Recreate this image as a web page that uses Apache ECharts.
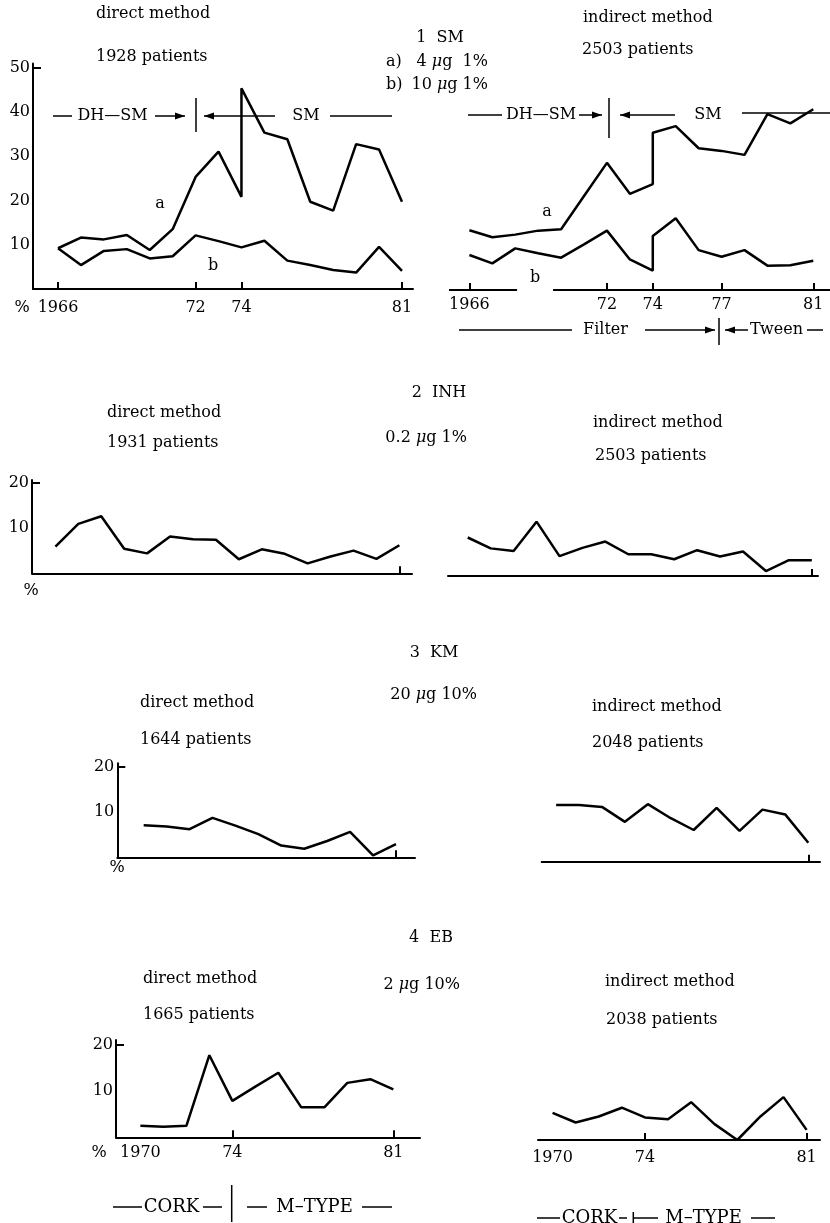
<!DOCTYPE html>
<html><head><meta charset="utf-8">
<script src="https://cdn.jsdelivr.net/npm/echarts@6/dist/echarts.min.js"></script>
<style>html,body{margin:0;padding:0;background:#fff}#c{width:830px;height:1223px}</style>
</head><body><div id="c"></div>
<script>
const FONT = "'DejaVu Serif', serif";

// ---------- DATA ----------
// 1 SM
const smDirectYearsA = [1966,1967,1968,1969,1970,1971,1972,1973,1974,1974,1975,1976,1977,1978,1979,1980,1981];
const smDirectA      = [9.2,11.6,11.2,12.2,8.8,13.5,25.3,31.0,20.8,45.3,35.3,33.8,19.7,17.7,32.7,31.5,19.7];
const smDirectYearsB = [1966,1967,1968,1969,1970,1971,1972,1973,1974,1975,1976,1977,1978,1979,1980,1981];
const smDirectB      = [9.2,5.4,8.6,9.0,6.9,7.4,12.1,10.8,9.4,10.9,6.4,5.4,4.3,3.7,9.5,4.1];
const smIndirectYearsA = [1966,1967,1968,1969,1970,1971,1972,1973,1974,1974,1975,1976,1977,1978,1979,1980,1981];
const smIndirectA      = [13.5,11.9,12.5,13.4,13.7,21.2,28.7,21.7,23.9,35.5,37.0,32.0,31.4,30.5,39.7,37.6,40.8];
const smIndirectYearsB = [1966,1967,1968,1969,1970,1971,1972,1973,1974,1974,1975,1976,1977,1978,1979,1980,1981];
const smIndirectB      = [7.9,6.0,9.4,8.3,7.3,10.3,13.4,6.9,4.4,12.2,16.2,9.0,7.5,9.0,5.5,5.6,6.6];
// 2 INH
const inhYears    = [1966,1967,1968,1969,1970,1971,1972,1973,1974,1975,1976,1977,1978,1979,1980,1981];
const inhDirect   = [5.9,10.9,12.6,5.4,4.4,8.1,7.5,7.4,3.1,5.3,4.3,2.2,3.7,5.0,3.2,6.2];
const inhIndirect = [8.5,6.1,5.5,12.0,4.4,6.2,7.6,4.8,4.8,3.7,5.7,4.3,5.4,1.1,3.5,3.5];
// 3 KM
const kmYears    = [1970,1971,1972,1973,1974,1975,1976,1977,1978,1979,1980,1981];
const kmDirect   = [7.1,6.8,6.2,8.7,7.0,5.1,2.6,1.9,3.6,5.6,0.4,2.9];
const kmIndirect = [12.5,12.5,12.1,8.8,12.7,9.6,7.0,11.9,6.8,11.5,10.4,4.2];
// 4 EB
const ebYears    = [1970,1971,1972,1973,1974,1975,1976,1977,1978,1979,1980,1981];
const ebDirect   = [2.5,2.3,2.5,17.8,7.9,11.0,14.0,6.5,6.5,11.8,12.6,10.4];
const ebIndirect = [5.9,3.8,5.1,7.0,4.9,4.5,8.2,3.5,0.0,5.1,9.3,2.2];

// axis ranges, ticks and tick labels per panel
const xRanges = [[1964.91,1981.48],[1965.11,1981.73],[1964.98,1981.55],[1965.14,1981.27],
                 [1968.85,1981.83],[1969.37,1981.51],[1968.94,1982.16],[1969.37,1981.58]];
const yMaxes = [50.9,50.9,20.6,20.6,20.75,20.75,21.1,21.1];
const xTickYears = [[1966,1972,1974,1981],[1966,1972,1974,1977,1981],[1981],[1981],[1981],[1981],[1974,1981],[1974,1981]];
const xLabelYears = [[1966,1972,1974,1981],[1966,1972,1974,1977,1981],[],[],[],[],[1970,1974,1981],[1970,1974,1981]];
const yLabelValues = [[10,20,30,40,50],null,[10,20],null,[10,20],null,[10,20],null];
const yTickValues = [[50],null,[20],null,[20],null,[20],null];

// ---------- LAYOUT ----------
const grids = [
  {left:33, top:63.5, width:380, height:225.5},
  {left:449, top:64.5, width:381, height:225.5},
  {left:32, top:480, width:380, height:93.3},
  {left:448, top:482.7, width:370, height:93.3},
  {left:117.3, top:763.3, width:297.7, height:94},
  {left:541.7, top:767.7, width:278.3, height:94},
  {left:116, top:1040, width:304, height:97.3},
  {left:538, top:1042.7, width:282, height:97.3}
].map(g => Object.assign({outerBoundsMode:'none', containLabel:false}, g));
const xLabelMargins = [11,7,8,8,8,8,8,10];

const pairs = (xs, ys) => xs.map((x,i)=>[x, ys[i]]);
const fmtYear = v => (v === 1966 || v === 1970) ? String(v) : String(v).slice(2);

const xAxis = grids.map((g,i)=>({
  type:'value', gridIndex:i, min:xRanges[i][0], max:xRanges[i][1],
  axisLine:{show: i!==1, onZero:false, lineStyle:{color:'#000', width:2}},
  axisTick:{show:true, inside:true, length:7, customValues:xTickYears[i], lineStyle:{color:'#000', width:2}},
  axisLabel:{show: xLabelYears[i].length>0, customValues:xLabelYears[i], formatter:fmtYear,
             color:'#000', fontFamily:FONT, fontSize:16, margin:xLabelMargins[i]},
  splitLine:{show:false}
}));
const yAxis = grids.map((g,i)=>{
  const left = i%2===0;
  return {
    type:'value', gridIndex:i, min:0, max:yMaxes[i], show:left,
    axisLine:{show:left, lineStyle:{color:'#000', width:2}},
    axisTick:{show:left, inside:true, length:8, customValues: yTickValues[i] || [], lineStyle:{color:'#000', width:2}},
    axisLabel:{show:left, customValues: yLabelValues[i] || [], color:'#000', fontFamily:FONT, fontSize:16, margin:3},
    splitLine:{show:false}
  };
});

const lineStyle = {color:'#000', width:2.5};
function S(idx, data, extra){
  return Object.assign({type:'line', xAxisIndex:idx, yAxisIndex:idx, data, symbol:'none',
    showSymbol:false, lineStyle, silent:true, animation:false}, extra||{});
}
const series = [
  S(0, pairs(smDirectYearsA, smDirectA)),
  S(0, pairs(smDirectYearsB, smDirectB)),
  S(1, pairs(smIndirectYearsA, smIndirectA)),
  S(1, pairs(smIndirectYearsB, smIndirectB), {markLine:{silent:true, symbol:['none','none'], label:{show:false},
    lineStyle:{color:'#000', width:2, type:'solid'}, animation:false,
    data:[[{coord:[xRanges[1][0],0]},{coord:[1968.08,0]}],[{coord:[1969.65,0]},{coord:[xRanges[1][1],0]}]]}}),
  S(2, pairs(inhYears, inhDirect)),
  S(3, pairs(inhYears, inhIndirect)),
  S(4, pairs(kmYears, kmDirect)),
  S(5, pairs(kmYears, kmIndirect)),
  S(6, pairs(ebYears, ebDirect)),
  S(7, pairs(ebYears, ebIndirect))
];

// ---------- ANNOTATIONS ----------
function T(text, x, y, align, size){
  const fs = size || 16;
  return {type:'text', x, y, silent:true, style:{text, fill:'#000', font:fs + 'px ' + FONT,
    align:align||'left', verticalAlign:'middle',
    rich:{i:{fontStyle:'italic', fontFamily:FONT, fontSize:fs, fill:'#000'}}}};
}
function L(x1,y1,x2,y2,w){
  return {type:'line', silent:true, shape:{x1,y1,x2,y2}, style:{stroke:'#000', lineWidth:w||1.5}};
}
function ARW(x1,x2,y,dir){
  const hx = dir==='right' ? x2 : x1;
  const bx = dir==='right' ? x2-10 : x1+10;
  return [L(x1,y,x2,y,1.5), {type:'polygon', silent:true, shape:{points:[[hx,y],[bx,y-3.5],[bx,y+3.5]]}, style:{fill:'#000'}}];
}
const graphic = [].concat(
  // panel 1
  T('direct method',96,14), T('1928 patients',96,57),
  T('1  SM',440,38,'center'),
  T('a)',386,62), T('4 {i|μ}g  1%',488,62,'right'),
  T('b)',386,85), T('10 {i|μ}g 1%',488,85,'right'),
  T('indirect method',583,18), T('2503 patients',582,50),
  T('a',160,204,'center'), T('b',213,266,'center'),
  T('a',547,212,'center'), T('b',535,278,'center'),
  T('%',22,308,'center'),
  L(53,116,72,116), T('DH—SM',112.5,116,'center'), ARW(155,185,116,'right'),
  L(196,98,196,132), ARW(204,275,116,'left'), T('SM',306,116,'center'), L(330,116,392,116),
  L(468,115,502,115), T('DH—SM',541,115,'center'), ARW(579,602,115,'right'),
  L(609,98,609,138), ARW(620,675,115,'left'), T('SM',708,115,'center'), L(742,113,830,113),
  L(459,330,572,330), T('Filter',605.5,330,'center'), ARW(645,715,330,'right'),
  L(719,318,719,345), ARW(725,748,330,'left'), T('Tween',776.5,330,'center'), L(807,330,823,330),
  // panel 2
  T('2  INH',439,393,'center'),
  T('direct method',107,413), T('1931 patients',107,443),
  T('0.2 {i|μ}g 1%',467,438,'right'),
  T('indirect method',593,423), T('2503 patients',595,456),
  T('%',31,591,'center'),
  // panel 3
  T('3  KM',434,653,'center'),
  T('20 {i|μ}g 10%',477,695,'right'),
  T('direct method',140,703), T('1644 patients',140,740),
  T('indirect method',592,707), T('2048 patients',592,743),
  T('%',117,868,'center'),
  // panel 4
  T('4  EB',431,938,'center'),
  T('2 {i|μ}g 10%',460,985,'right'),
  T('direct method',143,979), T('1665 patients',143,1015),
  T('indirect method',605,982), T('2038 patients',606,1020),
  T('%',99,1153,'center'),
  L(113,1207,142,1207), T('CORK',171.5,1207,'center',18), L(203,1207,222,1207),
  L(231.7,1185,231.7,1222), L(247,1207,267,1207), T('M–TYPE',314.5,1207,'center',18), L(362,1207,392,1207),
  L(537,1218,560,1218), T('CORK',589.5,1218,'center',18), L(619,1218,627,1218),
  L(633.3,1212,633.3,1223), L(634,1218,658,1218), T('M–TYPE',703.5,1218,'center',18), L(751,1218,775,1218)
);

const chart = echarts.init(document.getElementById('c'), null, {renderer:'canvas'});
chart.setOption({
  animation:false,
  backgroundColor:'#fff',
  grid: grids, xAxis, yAxis, series, graphic
});
</script></body></html>
